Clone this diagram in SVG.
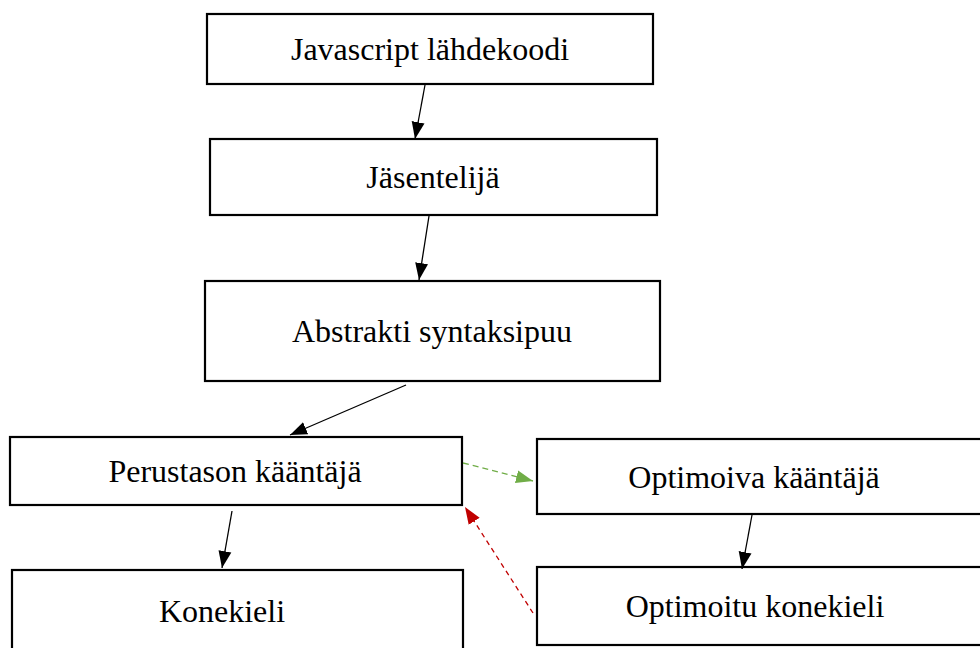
<svg xmlns="http://www.w3.org/2000/svg" width="980" height="648" viewBox="0 0 980 648">
<style>
.box{fill:#fff;stroke:#000;stroke-width:2.2}
.lbl{font-family:"Liberation Serif","Times New Roman",serif;font-size:32px;fill:#000;text-anchor:middle}
.c{fill:none;stroke:#000;stroke-width:1.3}
.g{fill:none;stroke:#70AD47;stroke-width:1.3;stroke-dasharray:6,4}
.r{fill:none;stroke:#C00000;stroke-width:1.3;stroke-dasharray:5,4}
</style>
<defs>
<marker id="ab" markerUnits="userSpaceOnUse" markerWidth="18" markerHeight="14" refX="17" refY="7" orient="auto"><path d="M0,0.5 L17,7 L0,13.5 Z" fill="#000"/></marker>
<marker id="ag" markerUnits="userSpaceOnUse" markerWidth="18" markerHeight="14" refX="17" refY="7" orient="auto"><path d="M0,0.5 L17,7 L0,13.5 Z" fill="#70AD47"/></marker>
<marker id="ar" markerUnits="userSpaceOnUse" markerWidth="18" markerHeight="14" refX="17" refY="7" orient="auto"><path d="M0,0.5 L17,7 L0,13.5 Z" fill="#C00000"/></marker>
</defs>
<rect width="980" height="648" fill="#fff"/>
<g id="n1"><rect class="box" x="207" y="14" width="446" height="70"/><text class="lbl" x="430" y="60">Javascript lähdekoodi</text></g>
<g id="n2"><rect class="box" x="210" y="139" width="447" height="76"/><text class="lbl" x="433" y="188">Jäsentelijä</text></g>
<g id="n3"><rect class="box" x="205" y="281" width="455" height="100"/><text class="lbl" x="432" y="342">Abstrakti syntaksipuu</text></g>
<g id="n4"><rect class="box" x="10" y="437" width="452" height="68"/><text class="lbl" x="235" y="482">Perustason kääntäjä</text></g>
<g id="n5"><rect class="box" x="12" y="570" width="451" height="82"/><text class="lbl" x="222" y="622">Konekieli</text></g>
<g id="n6"><rect class="box" x="537" y="439" width="450" height="75"/><text class="lbl" x="754" y="488">Optimoiva kääntäjä</text></g>
<g id="n7"><rect class="box" x="537" y="567" width="450" height="78"/><text class="lbl" x="755" y="617">Optimoitu konekieli</text></g>
<g id="connectors">
<line class="c" x1="425" y1="85" x2="415" y2="139" marker-end="url(#ab)"/>
<line class="c" x1="429" y1="216" x2="419" y2="280" marker-end="url(#ab)"/>
<line class="c" x1="406" y1="385" x2="290" y2="435" marker-end="url(#ab)"/>
<line class="c" x1="232" y1="511" x2="222" y2="568" marker-end="url(#ab)"/>
<line class="c" x1="752" y1="515" x2="742" y2="569" marker-end="url(#ab)"/>
<line class="g" x1="463" y1="463" x2="533" y2="481" marker-end="url(#ag)"/>
<line class="r" x1="533" y1="613" x2="465" y2="507" marker-end="url(#ar)"/>
</g>
</svg>
